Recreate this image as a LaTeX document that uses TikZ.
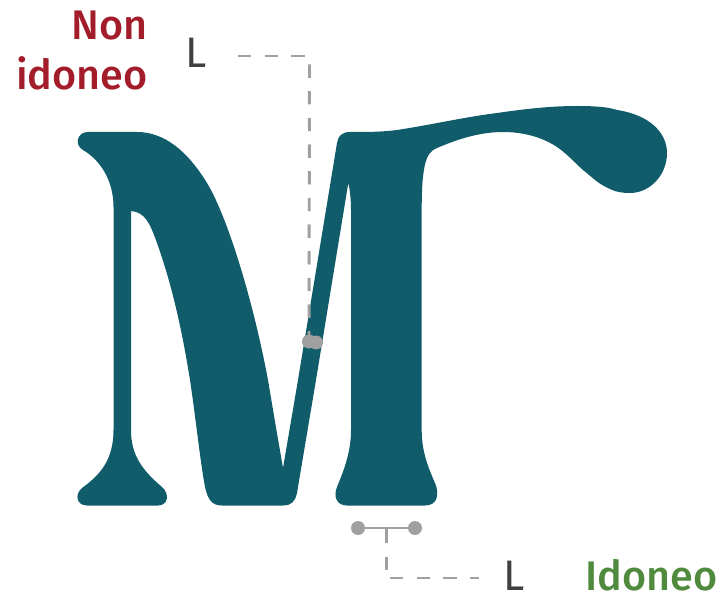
\documentclass[tikz,border=0pt]{standalone}
\usepackage{fontspec}
\setmainfont{Fira Sans}
\newfontfamily\medfont{Fira Sans Medium}
\definecolor{teal}{HTML}{105C6B}
\definecolor{guide}{HTML}{A0A0A0}
\definecolor{badred}{HTML}{A31C2A}
\definecolor{goodgreen}{HTML}{4F8A3D}
\definecolor{lettercol}{HTML}{404040}
\tikzset{
  glyph/.style={fill=teal,draw=none},
  guideline/.style={draw=guide,line width=2.2pt},
  guidedash/.style={guideline,dash pattern=on 10pt off 10pt},
  dot/.style={circle,fill=guide,draw=none,minimum size=10.5pt,inner sep=0pt},
  lettertext/.style={text=lettercol,font=\fontsize{32}{32}\selectfont,inner sep=0pt,anchor=base west},
  verdict/.style={font=\medfont\fontsize{31}{36.5}\selectfont,inner sep=0pt},
}
\begin{document}
\begin{tikzpicture}[x=0.75pt,y=-0.75pt]
\useasboundingbox (0,0) rectangle (721,595);
% glyph
\fill[glyph] (88,132) -- (137,132)
  .. controls (165,132) and (188,152) .. (207,183)
  .. controls (226,214) and (252,295) .. (268,380)
  .. controls (273,410) and (279,445) .. (283,468)
  -- (298,380) -- (337,143)
  .. controls (338,136) and (342,132) .. (350,132)
  .. controls (368,132) and (382,132) .. (397,130)
  .. controls (430,125) and (465,117) .. (497,113)
  .. controls (525,109) and (550,106) .. (577,106)
  .. controls (595,106) and (608,107) .. (617,110)
  .. controls (650,115) and (667,133) .. (667,153)
  .. controls (667,175) and (650,193) .. (630,193)
  .. controls (622,193) and (616,192) .. (610,189)
  .. controls (598,184) and (592,177) .. (583,170)
  .. controls (573,161) and (566,153) .. (557,147)
  .. controls (542,137) and (523,132) .. (503,132)
  .. controls (480,132) and (458,139) .. (437,148)
  .. controls (426,152) and (421.7,165) .. (421.7,210)
  -- (421.7,430)
  .. controls (421.7,450) and (427,465) .. (435,483)
  .. controls (440,495) and (437,505.5) .. (425,505.5)
  -- (347,505.5)
  .. controls (337,505.5) and (333,497) .. (337,487)
  .. controls (344,470) and (351,452) .. (351,430)
  -- (351,210) .. controls (351,200) and (350,190) .. (348.3,183)
  -- (316,380) -- (297,493)
  .. controls (295,502) and (291,505.5) .. (283,505.5)
  -- (222,505.5)
  .. controls (212,505.5) and (208,500) .. (205,487)
  .. controls (200,460) and (196,420) .. (190,380)
  .. controls (182,330) and (172,285) .. (157,243)
  .. controls (150,223.4) and (145,212) .. (131,211)
  -- (131,430)
  .. controls (131,455) and (142,470) .. (162,487)
  .. controls (170,494) and (168,505.5) .. (158,505.5)
  -- (87,505.5)
  .. controls (77,505.5) and (74,495) .. (82,488)
  .. controls (100,475) and (113.5,460) .. (113.5,430)
  -- (113.5,207)
  .. controls (113.5,180) and (100,160) .. (83,150)
  .. controls (74,145) and (77,132) .. (88,132) -- cycle;
% labels
\node[verdict,text=badred,anchor=base east] (non) at (148,40) {Non};
\node[verdict,text=badred,anchor=base east] (ido) at (148,90) {idoneo};
\node[verdict,text=goodgreen,anchor=base east] (good) at (718,590.5) {Idoneo};
\node[lettertext] (ltop) at (185,68) {L};
\node[lettertext] (lbot) at (503.5,590.5) {L};
% top guide
\coordinate (topstart) at (238,56);
\coordinate (topcorner) at (309.5,56);
\coordinate (vstart) at (309.5,64.5);
\node[dot] (da) at (309,341.5) {};
\node[dot] (db) at (316,342.5) {};
\draw[guidedash] (topstart) -- (topcorner);
\draw[guidedash] (vstart) -- (da.center);
% bottom guide
\node[dot] (dc) at (358,528) {};
\node[dot] (dd) at (415,528) {};
\coordinate (stem) at (386.3,528);
\coordinate (stemstart) at (386.3,530);
\coordinate (stemcorner) at (386.3,570);
\coordinate (hstart) at (390,578);
\coordinate (hend) at (479,578);
\draw[guideline] (dc) -- (dd);
\draw[guideline] (stem) -- (stemstart);
\draw[guidedash] (stemstart) -- (stemcorner);
\draw[guidedash] (hstart) -- (hend);
\end{tikzpicture}
\end{document}
